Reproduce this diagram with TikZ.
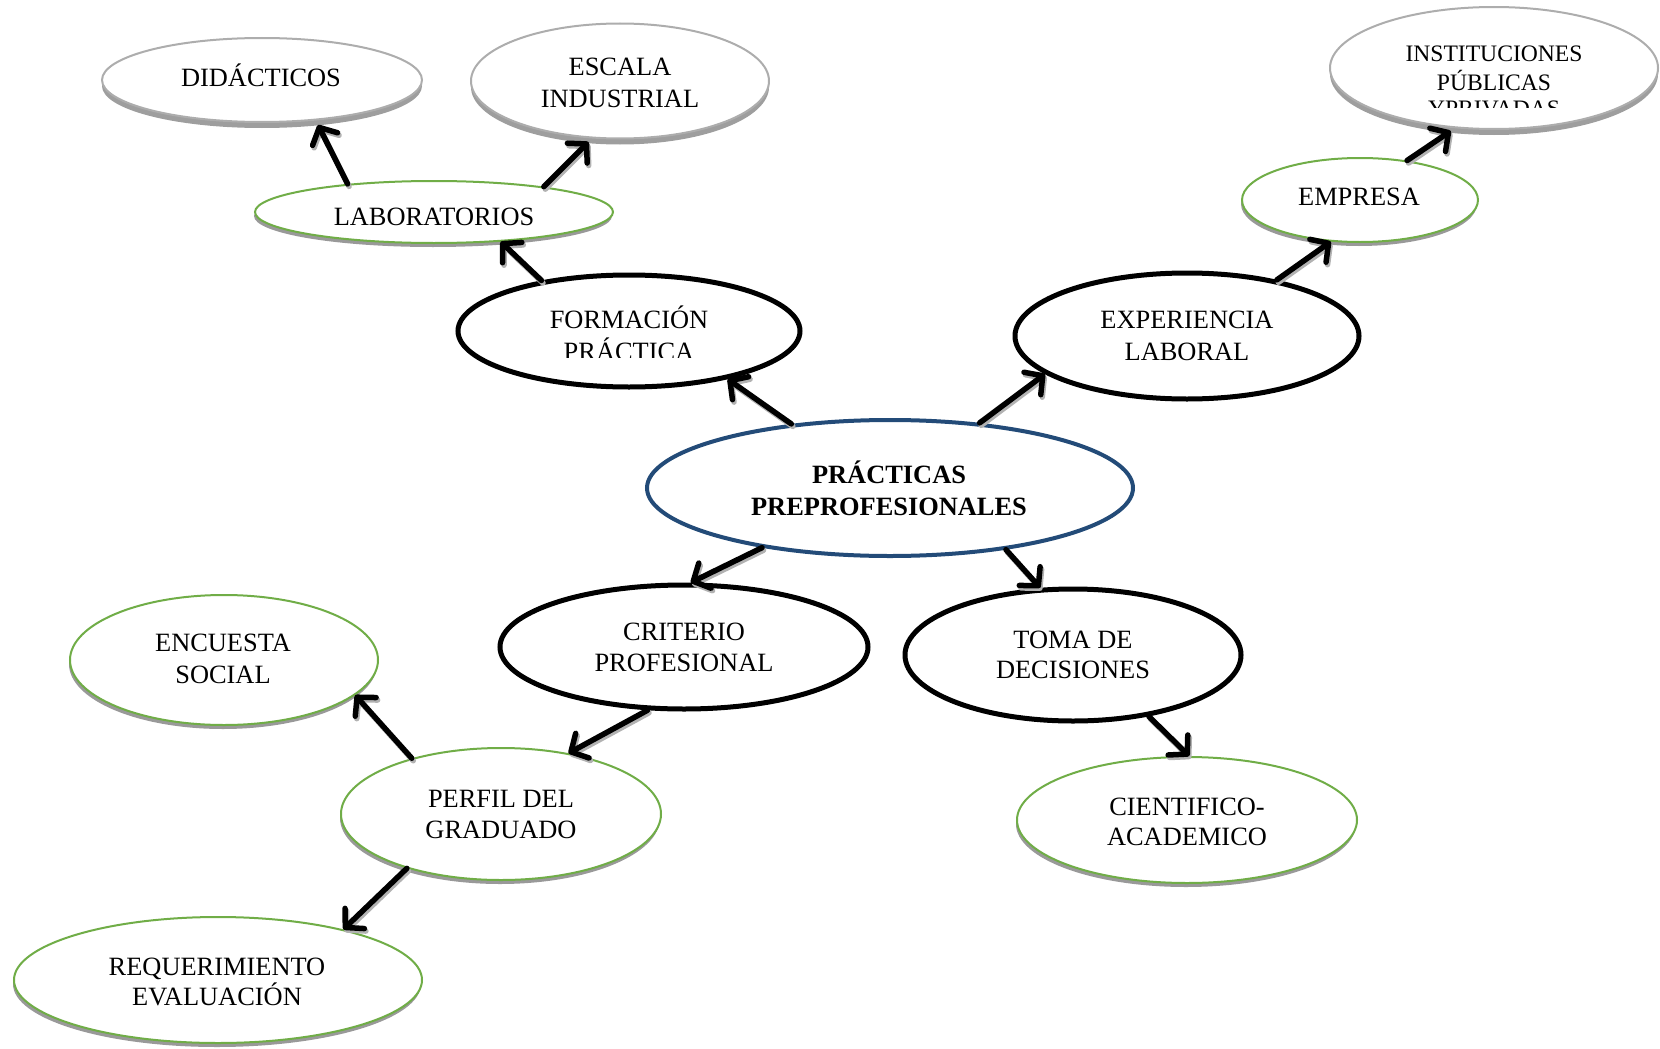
\documentclass[tikz,border=0pt]{standalone}
\usepackage{fontspec}
\setmainfont{Liberation Serif}
\usetikzlibrary{shapes.geometric,arrows.meta,shadows}
\definecolor{egreen}{RGB}{112,173,71}
\definecolor{eblue}{RGB}{35,75,120}
\begin{document}
\begin{tikzpicture}[x=1pt,y=-1pt,
  greenell/.style={ellipse, draw=egreen, line width=2pt, fill=white, inner sep=0pt,
    drop shadow={shadow xshift=-1pt, shadow yshift=-4pt, fill=black!40, opacity=1}},
  grayell/.style={ellipse, draw=black!32, line width=2pt, fill=white, inner sep=0pt,
    drop shadow={shadow xshift=0pt, shadow yshift=-6pt, fill=black!38, opacity=1}},
  blackell/.style={ellipse, draw=black, line width=5pt, fill=white, inner sep=0pt,
    drop shadow={shadow xshift=0pt, shadow yshift=-2pt, fill=black!20, opacity=1}},
  mainell/.style={ellipse, draw=eblue, line width=4pt, fill=white, inner sep=0pt},
  txt/.style={anchor=base, inner sep=0pt, font=\fontsize{26.4}{31}\selectfont},
  stxt/.style={anchor=base, inner sep=0pt, font=\fontsize{23.6}{28}\selectfont},
  btxt/.style={anchor=base, inner sep=0pt, font=\fontsize{26.4}{31}\selectfont\bfseries},
  arr/.style={line width=5.5pt, line cap=round,
    -{Straight Barb[length=13pt,width=28pt,line cap=round,line join=round]}},
  arrsh/.style={arr, draw=black!30, transform canvas={shift={(1.5pt,-2.5pt)}}}
]
\useasboundingbox (0,0) rectangle (1660,1049);

% ellipses
\node[grayell, minimum width=320pt, minimum height=84pt] (did) at (262,80) {};
\node[grayell, minimum width=298pt, minimum height=115pt] (esc) at (620,81) {};
\node[grayell, minimum width=328pt, minimum height=122pt] (inst) at (1494,68) {};
\node[greenell, minimum width=358pt, minimum height=62pt] (lab) at (434,212) {};
\node[blackell, minimum width=342pt, minimum height=112pt] (form) at (629,331) {};
\node[blackell, minimum width=344pt, minimum height=126pt] (exp) at (1187,336) {};
\node[greenell, minimum width=236pt, minimum height=84pt] (emp) at (1360,200) {};
\node[mainell, minimum width=486pt, minimum height=136pt] (cen) at (890,488) {};
\node[blackell, minimum width=368pt, minimum height=124pt] (crit) at (684,647) {};
\node[blackell, minimum width=336pt, minimum height=132pt] (toma) at (1073,655) {};
\node[greenell, minimum width=340pt, minimum height=126pt] (cient) at (1187,820) {};
\node[greenell, minimum width=308pt, minimum height=130pt] (enc) at (224,660) {};
\node[greenell, minimum width=320pt, minimum height=132pt] (perf) at (501,814) {};
\node[greenell, minimum width=408pt, minimum height=126pt] (req) at (218,980) {};

% texts
\node[txt] (did-t) at (261,87) {DIDÁCTICOS};
\node[txt] (esc-t1) at (620,75) {ESCALA};
\node[txt] (esc-t2) at (620,107) {INDUSTRIAL};
\begin{scope}
  \clip (1300,20) rectangle (1690,107);
  \node[stxt] (inst-t1) at (1494,62) {INSTITUCIONES};
  \node[stxt] (inst-t2) at (1494,90) {PÚBLICAS};
  \node[stxt] (inst-t3) at (1494,117) {YPRIVADAS};
\end{scope}
\node[txt] (lab-t) at (434,225) {LABORATORIOS};
\begin{scope}
  \clip (470,290) rectangle (790,357.5);
  \node[txt] (form-t1) at (629,328) {FORMACIÓN};
  \node[txt] (form-t2) at (629,360) {PRÁCTICA};
\end{scope}
\node[txt] (exp-t1) at (1187,328) {EXPERIENCIA};
\node[txt] (exp-t2) at (1187,360) {LABORAL};
\node[txt] (emp-t) at (1359,205) {EMPRESA};
\node[btxt] (cen-t1) at (889,483) {PRÁCTICAS};
\node[btxt] (cen-t2) at (889,515) {PREPROFESIONALES};
\node[txt] (crit-t1) at (684,640) {CRITERIO};
\node[txt] (crit-t2) at (684,671) {PROFESIONAL};
\node[txt] (toma-t1) at (1073,648) {TOMA DE};
\node[txt] (toma-t2) at (1073,678) {DECISIONES};
\node[txt] (cient-t1) at (1187,815) {CIENTIFICO-};
\node[txt] (cient-t2) at (1187,845) {ACADEMICO};
\node[txt] (enc-t1) at (223,651) {ENCUESTA};
\node[txt] (enc-t2) at (223,683) {SOCIAL};
\node[txt] (perf-t1) at (501,807) {PERFIL DEL};
\node[txt] (perf-t2) at (501,838) {GRADUADO};
\node[txt] (req-t1) at (217,975) {REQUERIMIENTO};
\node[txt] (req-t2) at (217,1005) {EVALUACIÓN};

% connectors
\foreach \a/\b in {cen.147/form.-26, cen.36/exp.195, cen.205/crit.84, cen.-28/toma.116,
  form.150/lab.-24, exp.32/emp.235,
  crit.240/perf.42, perf.148/enc.-15, perf.210/req.22, toma.-39/cient.88}{
  \draw[arrsh] (\a) -- (\b);
  \draw[arr] (\a) -- (\b);
}
% connectors ending at shadowed grey ellipses
\foreach \a/\b in {lab.162/did.-37, lab.13/esc.244, emp.40/inst.237}{
  \draw[arrsh, shorten >=5pt] (\a) -- (\b);
  \draw[arr, shorten >=5pt] (\a) -- (\b);
}
\end{tikzpicture}
\end{document}
